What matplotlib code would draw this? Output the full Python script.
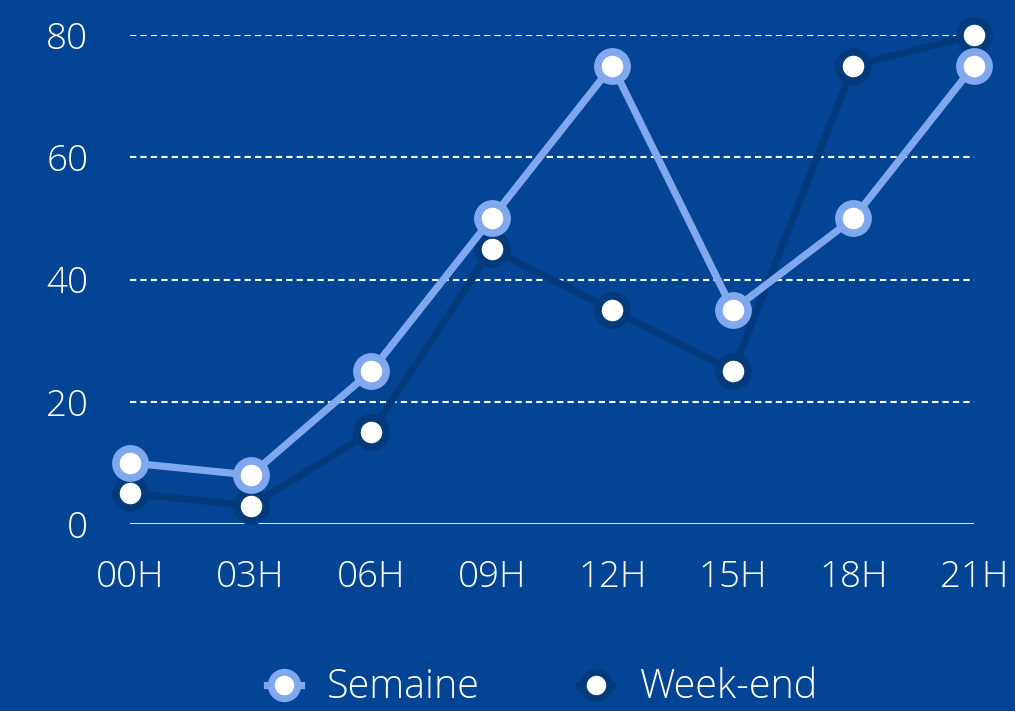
import matplotlib
matplotlib.use("Agg")
import matplotlib.pyplot as plt
from matplotlib.lines import Line2D

hours = ["00H", "03H", "06H", "09H", "12H", "15H", "18H", "21H"]
semaine = [10, 8, 25, 50, 75, 35, 50, 75]
weekend = [5, 3, 15, 45, 35, 25, 75, 80]
yticks = [0, 20, 40, 60, 80]

BG = "#034594"
LIGHT = "#80A8EE"
DARK = "#033A7B"

plt.rcParams['font.family'] = ['Open Sans', 'DejaVu Sans']
plt.rcParams['font.weight'] = 'light'

W, H = 1015, 711
fig = plt.figure(figsize=(W / 100, H / 100), dpi=100, facecolor=BG)
ax = fig.add_axes([130 / W, (H - 524) / H, (974 - 130) / W, (524 - 35) / H])
ax.set_facecolor(BG)

x = list(range(len(hours)))
lw = 5.2
ms = 21
mew = 5.5
ax.plot(x, weekend, color=DARK, lw=lw, marker='o', ms=ms, mfc='white',
        mec=DARK, mew=mew, clip_on=False, zorder=3)
ax.plot(x, semaine, color=LIGHT, lw=lw, marker='o', ms=ms, mfc='white',
        mec=LIGHT, mew=mew, clip_on=False, zorder=4)

ax.set_xlim(0, len(hours) - 1)
ax.set_ylim(0, 80)
ax.set_xticks(x)
ax.set_xticklabels(hours)
ax.set_yticks(yticks)
ax.set_yticklabels([str(v) for v in yticks])

for v in yticks[1:]:
    ax.axhline(v, color='white', lw=1.5, ls=(0, (3, 2)), zorder=1)
ax.axhline(0, color='white', lw=2.0, zorder=2)

for s in ax.spines.values():
    s.set_visible(False)
ax.tick_params(axis='both', length=0, colors='white', labelsize=26.5)
ax.tick_params(axis='y', pad=30)
ax.tick_params(axis='x', pad=25)

handles = [
    Line2D([0], [0], color=LIGHT, lw=lw, marker='o', ms=19, mfc='white', mec=LIGHT, mew=5),
    Line2D([0], [0], color=DARK, lw=lw, marker='o', ms=19, mfc='white', mec=DARK, mew=5),
]
leg = fig.legend(handles, ["Semaine", "Week-end"], loc='center',
                 bbox_to_anchor=(0.534, 1 - 688 / H), ncol=2, frameon=False,
                 fontsize=28.5, handlelength=0.85, handletextpad=0.66,
                 columnspacing=2.5, labelcolor='white')

fig.savefig("out.png", dpi=100, facecolor=BG)
